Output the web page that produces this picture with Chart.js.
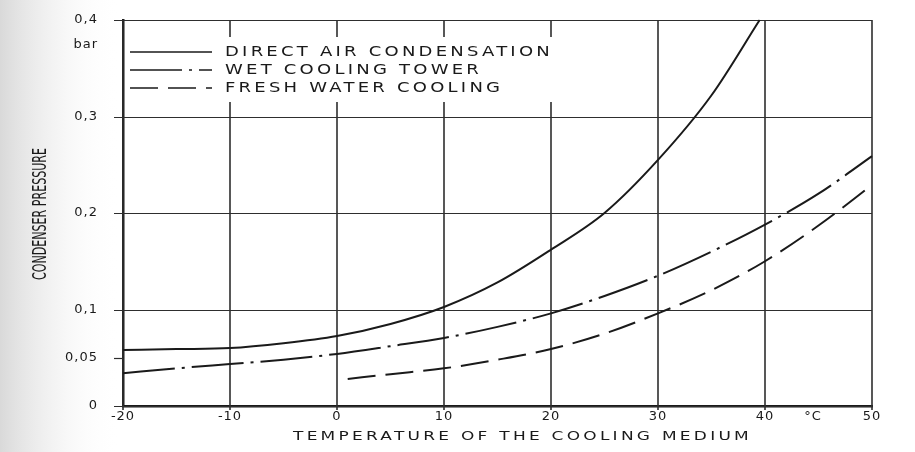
<!DOCTYPE html>
<html>
<head>
<meta charset="utf-8">
<script src="https://cdn.jsdelivr.net/npm/chart.js@4"></script>
<style>
  html, body { margin: 0; padding: 0; background: #fff; }
</style>
</head>
<body>
<canvas id="myChart" width="915" height="452"></canvas>
<script>
// values
const directTemp = [-20, -15, -10, -5, 0, 5, 10, 15, 20, 25, 30, 35, 39.5];
const directPressure = [0.058, 0.059, 0.060, 0.065, 0.0725, 0.085, 0.1026, 0.128, 0.162, 0.200, 0.255, 0.322, 0.400];

const wetTemp = [-20, -15, -10, -5, 0, 5, 10, 15, 20, 25, 30, 35, 40, 45, 50];
const wetPressure = [0.034, 0.039, 0.0435, 0.048, 0.054, 0.062, 0.0705, 0.082, 0.096, 0.114, 0.135, 0.160, 0.188, 0.220, 0.259];

const freshTemp = [1, 5, 10, 15, 20, 25, 30, 35, 40, 45, 50];
const freshPressure = [0.028, 0.033, 0.039, 0.048, 0.059, 0.075, 0.096, 0.120, 0.150, 0.187, 0.229];

const seriesLabels = ['DIRECT AIR CONDENSATION', 'WET COOLING TOWER', 'FRESH WATER COOLING'];

const xTickValues = [-20, -10, 0, 10, 20, 30, 40, 44.5, 50];
const xTickLabels = ['-20', '-10', '0', '10', '20', '30', '40', '°C', '50'];
const yTickValues = [0, 0.05, 0.1, 0.2, 0.3, 0.374, 0.4];
const yTickLabels = ['0', '0,05', '0,1', '0,2', '0,3', 'bar', '0,4'];

const xTitle = 'TEMPERATURE OF THE COOLING MEDIUM';
const yTitle = 'CONDENSER PRESSURE';

const toPoints = (xs, ys) => xs.map((x, i) => ({ x, y: ys[i] }));

const INK = '#1a1a1a';
const GRID = '#2e2e2e';
const FONT = '"DejaVu Sans", sans-serif';

const paperPlugin = {
  id: 'paper',
  beforeDraw(chart) {
    const { ctx, width, height } = chart;
    ctx.save();
    ctx.fillStyle = '#fff';
    ctx.fillRect(0, 0, width, height);
    const g = ctx.createLinearGradient(0, 0, 120, 0);
    g.addColorStop(0, '#d9d9d9');
    g.addColorStop(1, 'rgba(255,255,255,0)');
    ctx.fillStyle = g;
    ctx.fillRect(0, 0, 120, height);
    ctx.restore();
    ctx.letterSpacing = '1px';
  },
};

// grid of the drawing, placed through the chart's own scales
// (°C and bar ticks carry a label only, 0,05 only a tick mark)
const gridPlugin = {
  id: 'scanGrid',
  beforeDatasetsDraw(chart) {
    const { ctx, chartArea: a, scales: { x, y } } = chart;
    ctx.save();
    ctx.strokeStyle = GRID;
    ctx.setLineDash([]);
    ctx.lineWidth = 1.6;
    xTickValues.forEach((v, i) => {
      if (xTickLabels[i] === '°C') return;
      const px = Math.round(x.getPixelForValue(v));
      ctx.beginPath();
      ctx.moveTo(px, a.top);
      ctx.lineTo(px, a.bottom + 4);
      ctx.stroke();
    });
    ctx.lineWidth = 1.2;
    yTickValues.forEach((v, i) => {
      const l = yTickLabels[i];
      if (l === 'bar') return;
      const py = Math.round(y.getPixelForValue(v)) + 0.5;
      ctx.beginPath();
      ctx.moveTo(a.left - 9, py);
      ctx.lineTo(l === '0,05' ? a.left : a.right, py);
      ctx.stroke();
    });
    ctx.restore();
  },
};

// wide lettering: fixed gap, then stretched to the width seen on the scan
const wideText = (ctx, text, x, y, width, gap) => {
  ctx.save();
  ctx.letterSpacing = gap + 'px';
  const w = ctx.measureText(text).width;
  ctx.translate(x, y);
  ctx.scale(width / w, 1);
  ctx.textAlign = 'left';
  ctx.textBaseline = 'middle';
  ctx.fillText(text, 0, 0);
  ctx.restore();
};

const textPlugin = {
  id: 'paperText',
  afterDraw(chart) {
    const { ctx, chartArea } = chart;
    const { left, top } = chartArea;
    ctx.save();
    ctx.letterSpacing = '0px';

    // legend box, blanks out the grid behind it
    ctx.fillStyle = '#fff';
    ctx.fillRect(left + 3, top + 17, 432, 65);
    ctx.font = '14px ' + FONT;
    ctx.letterSpacing = '2.5px';
    const scale = 328 / ctx.measureText(seriesLabels[0]).width;
    ctx.letterSpacing = '0px';
    chart.data.datasets.forEach((ds, i) => {
      const y = top + 32 + i * 18;
      ctx.strokeStyle = INK;
      ctx.lineWidth = 1.6;
      ctx.setLineDash(ds.borderDash || []);
      ctx.beginPath();
      ctx.moveTo(left + 7, y);
      ctx.lineTo(left + 89, y);
      ctx.stroke();
      ctx.setLineDash([]);
      ctx.fillStyle = INK;
      ctx.letterSpacing = '2.5px';
      const w = ctx.measureText(ds.label).width;
      ctx.letterSpacing = '0px';
      wideText(ctx, ds.label, left + 102, y, w * scale, 2.5);
    });

    // x title
    ctx.font = '13px ' + FONT;
    ctx.fillStyle = INK;
    wideText(ctx, xTitle, 293, 437, 459, 2.5);

    // y title, tall narrow lettering
    ctx.font = '19px ' + FONT;
    const wy = ctx.measureText(yTitle).width;
    ctx.translate(41, 214);
    ctx.rotate(-Math.PI / 2);
    ctx.scale(132 / wy, 1);
    ctx.textAlign = 'center';
    ctx.textBaseline = 'middle';
    ctx.fillText(yTitle, 0, 0);
    ctx.restore();
  },
};

const lineDs = (label, pts, dash) => ({
  label,
  data: pts,
  borderColor: INK,
  borderWidth: 2,
  borderDash: dash,
  pointRadius: 0,
  fill: false,
  cubicInterpolationMode: 'monotone',
  clip: false,
});

const config = {
  type: 'line',
  data: {
    datasets: [
      lineDs(seriesLabels[0], toPoints(directTemp, directPressure), []),
      lineDs(seriesLabels[1], toPoints(wetTemp, wetPressure), [52, 7, 3, 7]),
      lineDs(seriesLabels[2], toPoints(freshTemp, freshPressure), [28, 10]),
    ],
  },
  options: {
    responsive: false,
    animation: false,
    layout: { padding: { left: 26, right: 43, top: 20, bottom: 6 } },
    plugins: {
      legend: { display: false },
      tooltip: { enabled: false },
    },
    scales: {
      x: {
        type: 'linear',
        min: -20,
        max: 50,
        afterBuildTicks: (s) => { s.ticks = xTickValues.map((v) => ({ value: v })); },
        afterFit: (s) => { s.height = 40; },
        ticks: {
          autoSkip: false,
          maxRotation: 0,
          padding: 1,
          color: INK,
          font: { family: FONT, size: 13 },
          callback: (v, i) => xTickLabels[i],
        },
        grid: { display: false, tickLength: 2 },
        border: { display: true, color: INK, width: 2.5 },
      },
      y: {
        type: 'linear',
        min: 0,
        max: 0.4,
        afterBuildTicks: (s) => { s.ticks = yTickValues.map((v) => ({ value: v })); },
        afterFit: (s) => { s.width = 97; },
        ticks: {
          autoSkip: false,
          padding: 5,
          color: INK,
          font: { family: FONT, size: 13 },
          callback: (v, i) => yTickLabels[i],
        },
        grid: { display: false, tickLength: 20 },
        border: { display: true, color: INK, width: 2.5 },
      },
    },
  },
  plugins: [paperPlugin, gridPlugin, textPlugin],
};

const main = () => {
  const ctx = document.getElementById('myChart').getContext('2d');
  new Chart(ctx, config);
};

main();
</script>
</body>
</html>
